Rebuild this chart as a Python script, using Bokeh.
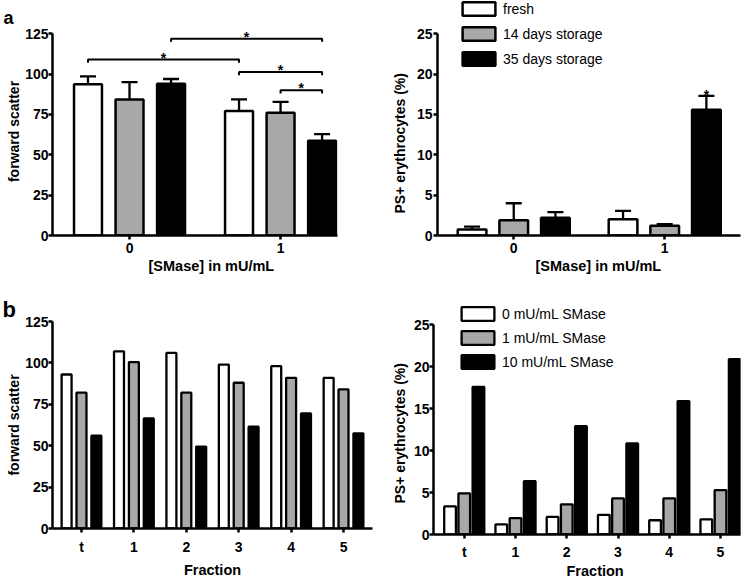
from bokeh.plotting import figure
from bokeh.models import (ColumnDataSource, FixedTicker, Whisker, TeeHead, Label,
                          Legend, LegendItem, Range1d, Title)
from bokeh.embed import file_html
from bokeh.resources import INLINE

# ---------------- data ----------------
# panel a
conc_a = ["0", "1"]
series_a = ["fresh", "14 days storage", "35 days storage"]
fsc_fresh = [93.7, 77.2]
fsc_fresh_err = [4.9, 7.1]
fsc_14d = [84.3, 76.0]
fsc_14d_err = [10.7, 6.8]
fsc_35d = [94.1, 58.7]
fsc_35d_err = [2.9, 4.1]

ps_fresh = [0.75, 2.0]
ps_fresh_err = [0.35, 1.05]
ps_14d = [1.9, 1.2]
ps_14d_err = [2.1, 0.2]
ps_35d = [2.2, 15.6]
ps_35d_err = [0.7, 1.7]

# significance brackets: (group, series) -> (group, series) at a level
sig_from_group = [0, 0, 1, 1]
sig_from_series = [0, 2, 0, 1]
sig_to_group = [1, 1, 1, 1]
sig_to_series = [0, 2, 2, 2]
sig_level = [109, 122, 101.3, 90]
ps_sig_group = [1]
ps_sig_series = [2]

# panel b
fractions = ["t", "1", "2", "3", "4", "5"]
series_b = ["0 mU/mL SMase", "1 mU/mL SMase", "10 mU/mL SMase"]
fsc_b_0 = [93, 107, 106, 99, 98, 91]
fsc_b_1 = [82, 100.5, 82, 88, 91, 84]
fsc_b_10 = [56, 66.5, 49.5, 61.5, 69.5, 57.5]
ps_b_0 = [3.35, 1.2, 2.1, 2.35, 1.7, 1.8]
ps_b_1 = [4.9, 1.95, 3.6, 4.3, 4.3, 5.3]
ps_b_10 = [17.6, 6.35, 12.9, 10.85, 15.9, 20.9]

fills = ["#ffffff", "#a8a8a8", "#000000"]
FONT = "Liberation Sans"


def make_fig(left, top, w, h, mbl, mbr, mbt, mbb, xr, yr, yticks, ybounds, cats, title=None):
    p = figure(width=w, height=h, output_backend="svg", toolbar_location=None,
               title=title,
               x_range=Range1d(*xr), y_range=Range1d(*yr),
               min_border_left=mbl, min_border_right=mbr,
               min_border_top=mbt, min_border_bottom=mbb,
               styles={"position": "absolute", "left": f"{left}px", "top": f"{top}px"})
    p.outline_line_color = None
    p.grid.visible = False
    p.xaxis.ticker = FixedTicker(ticks=list(range(len(cats))))
    p.xaxis.major_label_overrides = {i: c for i, c in enumerate(cats)}
    p.yaxis.ticker = FixedTicker(ticks=yticks)
    p.yaxis.bounds = ybounds
    for ax in (p.xaxis, p.yaxis):
        ax.axis_line_width = 2.5
        ax.axis_line_color = "black"
        ax.major_tick_line_width = 2.5
        ax.major_tick_line_color = "black"
        ax.major_tick_out = 4
        ax.major_tick_in = 0
        ax.minor_tick_line_color = None
        ax.major_label_text_font = FONT
        ax.major_label_text_font_size = "14px"
        ax.major_label_text_font_style = "bold"
        ax.major_label_text_color = "black"
        ax.axis_label_text_font = FONT
        ax.axis_label_text_font_style = "bold"
        ax.axis_label_text_color = "black"
        ax.axis_label_text_font_size = "14.5px"
    p.yaxis.major_label_standoff = 0
    return p


def side_title(p, text, side, offset, standoff, valign, size="14.5px"):
    p.add_layout(Title(text=text, align="left", offset=offset, standoff=standoff,
                       vertical_align=valign, text_font=FONT, text_font_size=size,
                       text_font_style="bold", text_color="black"), side)


def panel_letter(p, text, offset, size):
    p.title.text = text
    p.title.align = "left"
    p.title.offset = offset
    p.title.standoff = 0
    p.title.vertical_align = "bottom"
    p.title.text_font = FONT
    p.title.text_font_size = size
    p.title.text_font_style = "bold"
    p.title.text_color = "black"


def add_bars(p, values_list, errs_list, offset, width, lw):
    rends = []
    for k, vals in enumerate(values_list):
        xs = [i + (k - 1) * offset for i in range(len(vals))]
        data = dict(x=xs, val=vals)
        if errs_list is not None:
            data["top"] = [v + e for v, e in zip(vals, errs_list[k])]
        src = ColumnDataSource(data)
        if errs_list is not None:
            wh = Whisker(source=src, base="x", lower="val", upper="top",
                         dimension="height", line_width=2.3, line_color="black",
                         upper_head=TeeHead(size=16, line_width=2.3, line_color="black"),
                         lower_head=None)
            p.add_layout(wh)
        r = p.vbar(x="x", top="val", bottom=0, width=width, source=src,
                   fill_color=fills[k], line_color="black", line_width=lw)
        rends.append(r)
    return rends


def add_legend(p, rends, labels, loc, spacing):
    leg = Legend(items=[LegendItem(label=l, renderers=[r]) for l, r in zip(labels, rends)],
                 location=loc, orientation="vertical", glyph_width=41, glyph_height=17,
                 label_height=17, spacing=spacing, padding=0, margin=0, label_standoff=4,
                 label_text_font=FONT, label_text_font_size="14px",
                 label_text_color="black",
                 border_line_color=None, background_fill_alpha=0)
    p.add_layout(leg)


def star(p, x, y, yoff):
    p.add_layout(Label(x=x, y=y, y_offset=yoff, text="*", text_align="center",
                       text_baseline="alphabetic", text_font=FONT, text_font_size="14px",
                       text_font_style="bold", text_color="black"))


# ---------------- panel a, left ----------------
off_a = 0.275
p1 = make_fig(0, 0, 380, 290, 52, 43, 27, 55, (-0.51, 1.377), (0, 128.9),
              [0, 25, 50, 75, 100, 125], (0, 125), conc_a, title="a")
panel_letter(p1, "a", -49, "18px")
p1.xaxis.major_label_standoff = 3
p1.yaxis.axis_label = "forward scatter"
p1.yaxis.axis_label_standoff = 0
p1.yaxis.axis_label_text_font_size = "14px"
side_title(p1, "[SMase] in mU/mL", "below", 96, 4, "top")
add_bars(p1, [fsc_fresh, fsc_14d, fsc_35d], [fsc_fresh_err, fsc_14d_err, fsc_35d_err],
         off_a, 0.185, 2.5)

bx, by = [], []
for g0, s0, g1, s1, lev in zip(sig_from_group, sig_from_series, sig_to_group, sig_to_series, sig_level):
    xl = g0 + (s0 - 1) * off_a
    xr_ = g1 + (s1 - 1) * off_a
    bx.append([xl, xl, xr_, xr_])
    by.append([lev - 2, lev, lev, lev - 2])
    star(p1, (xl + xr_) / 2, lev, 2)
p1.multi_line(xs=bx, ys=by, line_color="black", line_width=2)

# ---------------- panel a, right ----------------
off_a2 = 0.276
p2 = make_fig(380, 0, 374, 290, 57, 14, 0, 55, (-0.505, 1.502), (0, 29.13),
              [0, 5, 10, 15, 20, 25], (0, 25), conc_a)
p2.xaxis.major_label_standoff = 3
p2.yaxis.major_label_standoff = 1
side_title(p2, "[SMase] in mU/mL", "below", 98, 4, "top")
side_title(p2, "PS+ erythrocytes (%)", "left", 22, 12, "bottom", "14px")
r2 = add_bars(p2, [ps_fresh, ps_14d, ps_35d], [ps_fresh_err, ps_14d_err, ps_35d_err],
              off_a2, 0.19, 2.5)
ps_all = [ps_fresh, ps_14d, ps_35d]
ps_err_all = [ps_fresh_err, ps_14d_err, ps_35d_err]
for g, s in zip(ps_sig_group, ps_sig_series):
    star(p2, g + (s - 1) * off_a2, ps_all[s][g] + ps_err_all[s][g], 1)
add_legend(p2, r2, series_a, (21, 168), 8)

# ---------------- panel b, left ----------------
p3 = make_fig(0, 290, 385, 290, 52, 13, 31, 46, (-0.553, 5.553), (0, 125),
              [0, 25, 50, 75, 100, 125], (0, 125), fractions, title="b")
panel_letter(p3, "b", -50, "22px")
p3.xaxis.major_label_standoff = 6
p3.xaxis.axis_label = "Fraction"
p3.xaxis.axis_label_standoff = 4
p3.yaxis.axis_label = "forward scatter"
p3.yaxis.axis_label_standoff = 0
p3.yaxis.axis_label_text_font_size = "14px"
add_bars(p3, [fsc_b_0, fsc_b_1, fsc_b_10], None, 0.284, 0.19, 2.3)

# ---------------- panel b, right ----------------
p4 = make_fig(385, 290, 369, 291, 48, 14, 0, 47, (-0.6, 5.39), (0, 29.08),
              [0, 5, 10, 15, 20, 25], (0, 25), fractions)
p4.xaxis.major_label_standoff = 5
side_title(p4, "Fraction", "below", 133, 0, "top")
side_title(p4, "PS+ erythrocytes (%)", "left", 31, 6, "bottom", "14px")
r4 = add_bars(p4, [ps_b_0, ps_b_1, ps_b_10], None, 0.277, 0.228, 2.3)
add_legend(p4, r4, series_b, (24, 164), 7)

open("out.html", "w").write(file_html([p1, p2, p3, p4], INLINE))
